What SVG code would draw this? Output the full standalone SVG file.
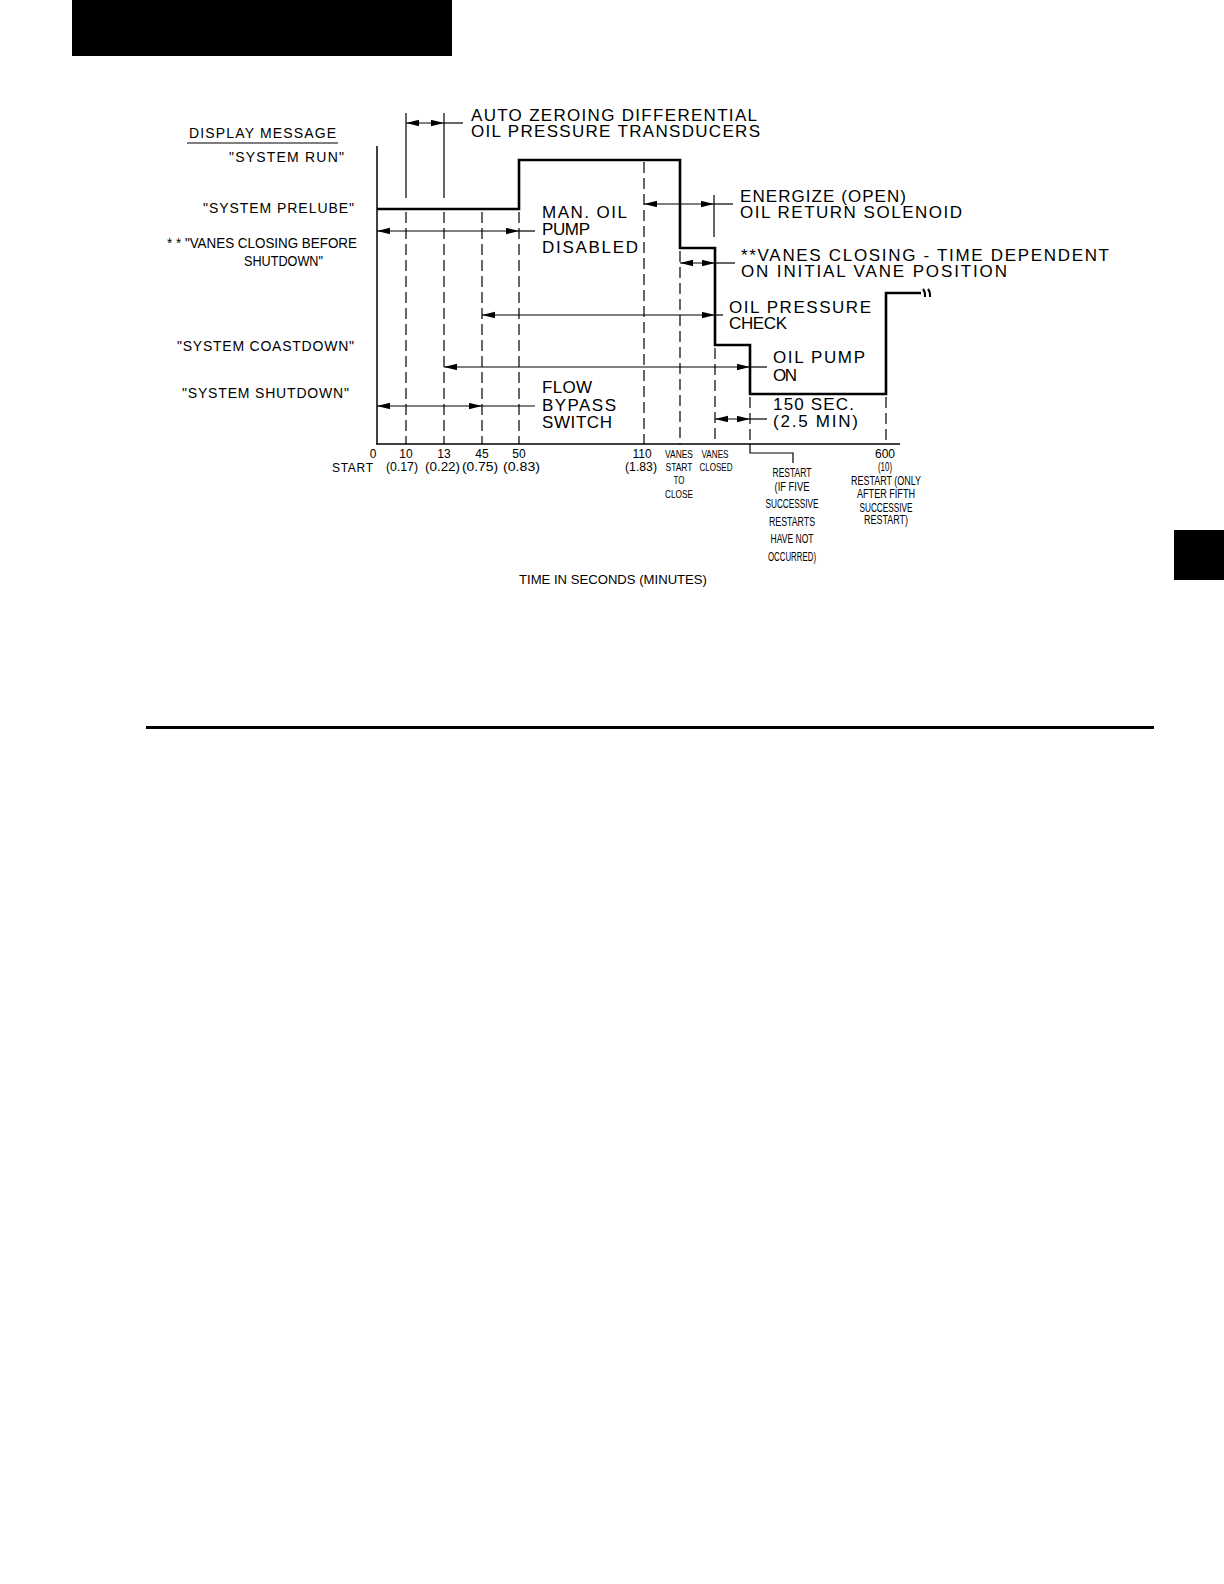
<svg xmlns="http://www.w3.org/2000/svg" width="1224" height="1584" viewBox="0 0 1224 1584">
<style>
text{font-family:"Liberation Sans",Arial,sans-serif;fill:#000}
.lab{font-size:14px}
.big{font-size:17px}
.ax{font-size:12px;text-anchor:middle}
.axn{font-size:11px;text-anchor:middle}
.axs{font-size:12px}
.thin{stroke:#000;stroke-width:1.2;fill:none}
.dash{stroke:#000;stroke-width:1.2;fill:none;stroke-dasharray:11 5}
.dim{stroke:#000;stroke-width:1.1;fill:none;marker-start:url(#ah);marker-end:url(#ah)}
</style>
<defs>
<marker id="ah" markerUnits="userSpaceOnUse" markerWidth="14" markerHeight="8" refX="13" refY="3.2" orient="auto-start-reverse">
<path d="M0,0 L13,3.2 L0,6.4 z" fill="#000"/>
</marker>
</defs>
<rect x="72" y="0" width="380" height="56" fill="#000"/>
<rect x="1174" y="530" width="50" height="50" fill="#000"/>
<line x1="146" y1="727.5" x2="1154" y2="727.5" stroke="#000" stroke-width="3"/>

<g id="axes">
<line x1="377" y1="146" x2="377" y2="444" stroke="#000" stroke-width="1.5"/>
<line x1="376" y1="444" x2="900" y2="444" stroke="#000" stroke-width="1.5"/>
</g>

<g id="markers">
<line class="thin" x1="406" y1="113" x2="406" y2="198"/>
<line class="thin" x1="444" y1="113" x2="444" y2="198"/>
<line class="dash" x1="406" y1="212" x2="406" y2="444"/>
<line class="dash" x1="444" y1="212" x2="444" y2="444"/>
<line class="dash" x1="482" y1="212" x2="482" y2="444"/>
<line class="dash" x1="519" y1="212" x2="519" y2="444"/>
<line class="dash" x1="644" y1="162" x2="644" y2="444"/>
<line class="dash" x1="680" y1="251" x2="680" y2="444"/>
<line class="thin" x1="714" y1="195" x2="714" y2="237"/>
<line class="dash" x1="715" y1="348" x2="715" y2="444"/>
<line class="dash" x1="750" y1="397" x2="750" y2="444"/>
<line class="dash" x1="886" y1="397" x2="886" y2="444"/>
<polyline class="thin" points="750,444 750,453 793,453 793,463"/>
</g>

<g id="step-line">
<path d="M377,209 H519 V160 H680 V248 H715 V345 H750 V394 H886 V293 H921" fill="none" stroke="#000" stroke-width="2.6"/>
<path d="M923,289 Q925.5,292 925,297 M928,289 Q930.5,292 930,297" fill="none" stroke="#000" stroke-width="2"/>
</g>

<g id="connectors">
<line class="dim" x1="406" y1="123" x2="444" y2="123"/>
<line class="thin" x1="444" y1="123" x2="463" y2="123"/>
<line class="dim" x1="377" y1="231" x2="519" y2="231"/>
<line class="thin" x1="519" y1="231" x2="535" y2="231"/>
<line class="dim" x1="644" y1="204" x2="714" y2="204"/>
<line class="thin" x1="714" y1="204" x2="733" y2="204"/>
<line class="dim" x1="680" y1="263" x2="715" y2="263"/>
<line class="thin" x1="715" y1="263" x2="735" y2="263"/>
<line class="dim" x1="482" y1="315" x2="715" y2="315"/>
<line class="thin" x1="715" y1="315" x2="723" y2="315"/>
<line class="dim" x1="444" y1="367" x2="750" y2="367"/>
<line class="thin" x1="750" y1="367" x2="767" y2="367"/>
<line class="dim" x1="377" y1="406" x2="482" y2="406"/>
<line class="thin" x1="482" y1="406" x2="535" y2="406"/>
<line class="dim" x1="715" y1="419" x2="750" y2="419"/>
<line class="thin" x1="750" y1="419" x2="767" y2="419"/>
</g>

<g id="display-labels">
<text class="lab" x="189" y="138" textLength="147" lengthAdjust="spacing">DISPLAY MESSAGE</text>
<line class="thin" x1="187" y1="143" x2="338" y2="143"/>
<text class="lab" x="229" y="162" textLength="115" lengthAdjust="spacing">"SYSTEM RUN"</text>
<text class="lab" x="203" y="213" textLength="151" lengthAdjust="spacing">"SYSTEM PRELUBE"</text>
<text class="lab" x="167" y="248" textLength="190" lengthAdjust="spacingAndGlyphs">* * "VANES CLOSING BEFORE</text>
<text class="lab" x="244" y="266" textLength="79" lengthAdjust="spacingAndGlyphs">SHUTDOWN"</text>
<text class="lab" x="177" y="351" textLength="177" lengthAdjust="spacing">"SYSTEM COASTDOWN"</text>
<text class="lab" x="182" y="398" textLength="167" lengthAdjust="spacing">"SYSTEM SHUTDOWN"</text>
</g>

<g id="event-labels">
<text class="big" x="471" y="121" textLength="286" lengthAdjust="spacing">AUTO ZEROING DIFFERENTIAL</text>
<text class="big" x="471" y="137" textLength="289" lengthAdjust="spacing">OIL PRESSURE TRANSDUCERS</text>
<text class="big" x="542" y="218" textLength="85" lengthAdjust="spacing">MAN. OIL</text>
<text class="big" x="542" y="235" textLength="48" lengthAdjust="spacing">PUMP</text>
<text class="big" x="542" y="253" textLength="96" lengthAdjust="spacing">DISABLED</text>
<text class="big" x="740" y="202" textLength="166" lengthAdjust="spacing">ENERGIZE (OPEN)</text>
<text class="big" x="740" y="218" textLength="222" lengthAdjust="spacing">OIL RETURN SOLENOID</text>
<text class="big" x="741" y="261" textLength="368" lengthAdjust="spacing">**VANES CLOSING - TIME DEPENDENT</text>
<text class="big" x="741" y="277" textLength="266" lengthAdjust="spacing">ON INITIAL VANE POSITION</text>
<text class="big" x="729" y="313" textLength="142" lengthAdjust="spacing">OIL PRESSURE</text>
<text class="big" x="729" y="329" textLength="58" lengthAdjust="spacing">CHECK</text>
<text class="big" x="773" y="363" textLength="92" lengthAdjust="spacing">OIL PUMP</text>
<text class="big" x="773" y="381" textLength="24" lengthAdjust="spacing">ON</text>
<text class="big" x="542" y="393" textLength="50" lengthAdjust="spacing">FLOW</text>
<text class="big" x="542" y="411" textLength="74" lengthAdjust="spacing">BYPASS</text>
<text class="big" x="542" y="428" textLength="70" lengthAdjust="spacing">SWITCH</text>
<text class="big" x="773" y="410" textLength="81" lengthAdjust="spacing">150 SEC.</text>
<text class="big" x="773" y="427" textLength="85" lengthAdjust="spacing">(2.5 MIN)</text>
</g>

<g id="axis-labels">
<text class="ax" x="373" y="458">0</text>
<text class="axs" x="332" y="472" textLength="41" lengthAdjust="spacing">START</text>
<text class="ax" x="406" y="458">10</text>
<text class="ax" x="444" y="458">13</text>
<text class="ax" x="482" y="458">45</text>
<text class="ax" x="519" y="458">50</text>
<text class="ax" x="642" y="458">110</text>
<text class="ax" x="402" y="471" textLength="32" lengthAdjust="spacingAndGlyphs">(0.17)</text>
<text class="ax" x="442.5" y="471" textLength="35" lengthAdjust="spacingAndGlyphs">(0.22)</text>
<text class="ax" x="480" y="471" textLength="36" lengthAdjust="spacingAndGlyphs">(0.75)</text>
<text class="ax" x="521.5" y="471" textLength="37" lengthAdjust="spacingAndGlyphs">(0.83)</text>
<text class="ax" x="641" y="471" textLength="32" lengthAdjust="spacingAndGlyphs">(1.83)</text>
<text class="axn" x="679" y="458" textLength="28" lengthAdjust="spacingAndGlyphs">VANES</text>
<text class="axn" x="679" y="471" textLength="27" lengthAdjust="spacingAndGlyphs">START</text>
<text class="axn" x="679" y="484" textLength="11" lengthAdjust="spacingAndGlyphs">TO</text>
<text class="axn" x="679" y="498" textLength="28" lengthAdjust="spacingAndGlyphs">CLOSE</text>
<text class="axn" x="715" y="458" textLength="27" lengthAdjust="spacingAndGlyphs">VANES</text>
<text class="axn" x="716" y="471" textLength="33" lengthAdjust="spacingAndGlyphs">CLOSED</text>
<text class="ax" x="792" y="477" textLength="39" lengthAdjust="spacingAndGlyphs">RESTART</text>
<text class="ax" x="792" y="491" textLength="35" lengthAdjust="spacingAndGlyphs">(IF FIVE</text>
<text class="ax" x="792" y="508" textLength="53" lengthAdjust="spacingAndGlyphs">SUCCESSIVE</text>
<text class="ax" x="792" y="526" textLength="46" lengthAdjust="spacingAndGlyphs">RESTARTS</text>
<text class="ax" x="792" y="543" textLength="43" lengthAdjust="spacingAndGlyphs">HAVE NOT</text>
<text class="ax" x="792" y="561" textLength="48" lengthAdjust="spacingAndGlyphs">OCCURRED)</text>
<text class="ax" x="885" y="458">600</text>
<text class="ax" x="885" y="471" textLength="14" lengthAdjust="spacingAndGlyphs">(10)</text>
<text class="ax" x="886" y="485" textLength="70" lengthAdjust="spacingAndGlyphs">RESTART (ONLY</text>
<text class="ax" x="886" y="498" textLength="58" lengthAdjust="spacingAndGlyphs">AFTER FIFTH</text>
<text class="ax" x="886" y="512" textLength="53" lengthAdjust="spacingAndGlyphs">SUCCESSIVE</text>
<text class="ax" x="886" y="524" textLength="44" lengthAdjust="spacingAndGlyphs">RESTART)</text>
<text class="axs" x="519" y="584" font-size="13" textLength="188" lengthAdjust="spacingAndGlyphs">TIME IN SECONDS (MINUTES)</text>
</g>
</svg>
